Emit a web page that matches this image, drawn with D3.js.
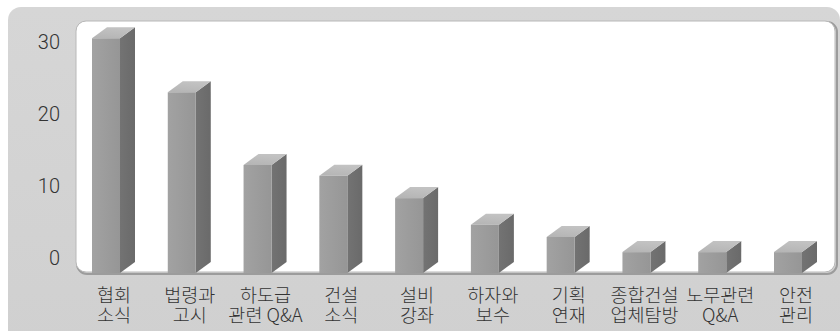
<!DOCTYPE html>
<html>
<head>
<meta charset="utf-8">
<script src="https://cdn.jsdelivr.net/npm/d3@7/dist/d3.min.js"></script>
<style>
  html, body { margin: 0; padding: 0; background: #ffffff; }
  svg { display: block; }
</style>
</head>
<body>
<svg id="chart" width="840" height="331"></svg>
<script>
// ---- data ----
const categories = [
  ["협회", "소식"],
  ["법령과", "고시"],
  ["하도급", "관련 Q&A"],
  ["건설", "소식"],
  ["설비", "강좌"],
  ["하자와", "보수"],
  ["기획", "연재"],
  ["종합건설", "업체탐방"],
  ["노무관련", "Q&A"],
  ["안전", "관리"]
];
const values = [32.6, 25.1, 15, 13.5, 10.4, 6.7, 5, 2.9, 2.9, 2.9];
const tickValues = [0, 10, 20, 30];

// ---- layout ----
const svg = d3.select("#chart");
const depthX = 15, depthY = 11;
const barW = 28;
const frontOffset = 15; // front face sits below the back-wall axis

const keys = categories.map(c => c.join(" "));
const x = d3.scalePoint().domain(keys).range([92, 774]);
const y = d3.scaleLinear().domain([0, 30]).range([258, 42]);

const defs = svg.append("defs");
const gFront = defs.append("linearGradient").attr("id", "gFront").attr("x1", 0).attr("x2", 1);
gFront.append("stop").attr("offset", 0).attr("stop-color", "#a2a2a2");
gFront.append("stop").attr("offset", 1).attr("stop-color", "#969696");
const gSide = defs.append("linearGradient").attr("id", "gSide").attr("x1", 0).attr("x2", 1);
gSide.append("stop").attr("offset", 0).attr("stop-color", "#737373");
gSide.append("stop").attr("offset", 1).attr("stop-color", "#6a6a6a");
const gTop = defs.append("linearGradient").attr("id", "gTop").attr("x1", 0).attr("y1", 1).attr("x2", 0.3).attr("y2", 0);
gTop.append("stop").attr("offset", 0).attr("stop-color", "#b4b4b4");
gTop.append("stop").attr("offset", 1).attr("stop-color", "#c2c2c2");
const gOuter = defs.append("linearGradient").attr("id", "gOuter").attr("x1", 0).attr("y1", 0).attr("x2", 0).attr("y2", 1);
gOuter.append("stop").attr("offset", 0).attr("stop-color", "#d6d6d6");
gOuter.append("stop").attr("offset", 1).attr("stop-color", "#d0d0d0");

// outer gray frame
svg.append("rect")
  .attr("x", 8).attr("y", 7).attr("width", 832).attr("height", 340)
  .attr("rx", 13).attr("fill", "url(#gOuter)");

// inner white panel with shadowed border
svg.append("rect")
  .attr("x", 77).attr("y", 22).attr("width", 760).attr("height", 252)
  .attr("rx", 10).attr("fill", "none").attr("stroke", "#9c9c9c").attr("stroke-width", 2);
svg.append("rect")
  .attr("x", 76).attr("y", 21).attr("width", 759).attr("height", 251)
  .attr("rx", 10).attr("fill", "#ffffff").attr("stroke", "#b8b8b8").attr("stroke-width", 1);

// y axis labels
svg.append("g").selectAll("text").data(tickValues).join("text")
  .attr("x", 60).attr("y", d => y(d))
  .attr("dy", "0.36em")
  .attr("text-anchor", "end")
  .attr("font-family", "Roboto, 'Liberation Sans', sans-serif")
  .attr("font-weight", 300)
  .attr("font-size", 20)
  .attr("fill", "#333333")
  .text(d => d);

// bars
const bars = svg.append("g").selectAll("g").data(values).join("g");
const base = y(0) + frontOffset;
bars.each(function(v, i) {
  const g = d3.select(this);
  const x0 = x(keys[i]);
  const top = y(v) + frontOffset;
  g.append("path")
    .attr("d", `M${x0 + barW},${top} L${x0 + barW + depthX},${top - depthY} L${x0 + barW + depthX},${base - depthY} L${x0 + barW},${base} Z`)
    .attr("fill", "url(#gSide)");
  g.append("path")
    .attr("d", `M${x0},${top} L${x0 + depthX},${top - depthY} L${x0 + barW + depthX},${top - depthY} L${x0 + barW},${top} Z`)
    .attr("fill", "url(#gTop)");
  g.append("rect")
    .attr("x", x0).attr("y", top).attr("width", barW).attr("height", base - top)
    .attr("fill", "url(#gFront)");
});

// x labels (two lines, each its own text element)
const labelG = svg.append("g")
  .attr("font-family", "'Noto Sans CJK KR', 'Noto Sans', sans-serif")
  .attr("font-weight", 300)
  .attr("font-size", 18.5)
  .attr("fill", "#333333")
  .attr("text-anchor", "middle");
categories.forEach((c, i) => {
  const cx = x(keys[i]) + 22;
  c.forEach((line, j) => {
    labelG.append("text").attr("x", cx).attr("y", 302 + j * 20).text(line);
  });
});
</script>
</body>
</html>
